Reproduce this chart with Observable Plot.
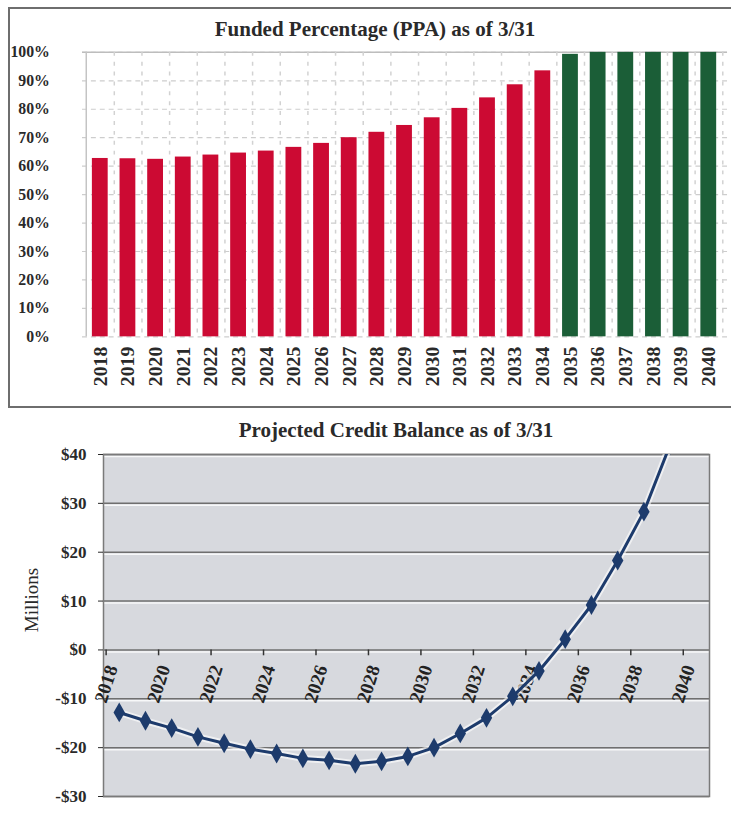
<!DOCTYPE html>
<html><head><meta charset="utf-8">
<script src="https://cdn.jsdelivr.net/npm/d3@7"></script>
<script src="https://cdn.jsdelivr.net/npm/@observablehq/plot@0.6"></script>
<style>
html,body{margin:0;padding:0;background:#fff;overflow:hidden;width:731px;height:821px;}
#box1{position:absolute;left:8px;top:7px;width:760px;height:401px;border:2px solid #6e6e6e;box-sizing:border-box;}
.title{position:absolute;font-family:"Liberation Serif",serif;font-weight:bold;color:#2a2a2a;white-space:nowrap;transform:translateX(-50%);line-height:1;}
#t1{left:375px;top:19px;font-size:21px;}
#t2{left:396px;top:420px;font-size:21px;}
#chart1{position:absolute;left:0;top:40px;}
#chart2{position:absolute;left:0;top:440px;}
#millions{position:absolute;left:31px;top:600px;font-family:"Liberation Serif",serif;font-size:19px;color:#2a2a2a;white-space:nowrap;transform:translate(-50%,-50%) rotate(-90deg);line-height:1;}
</style></head>
<body>
<div id="box1"></div>
<div class="title" id="t1">Funded Percentage (PPA) as of 3/31</div>
<div id="chart1"></div>
<div class="title" id="t2">Projected Credit Balance as of 3/31</div>
<div id="millions">Millions</div>
<div id="chart2"></div>
<script>
// ---- Funded percentage (top) ----
const fundedYears = ["2018","2019","2020","2021","2022","2023","2024","2025","2026","2027","2028","2029","2030","2031","2032","2033","2034","2035","2036","2037","2038","2039","2040"];
const fundedPct = [62.7,62.6,62.4,63.2,63.9,64.6,65.3,66.6,68.0,70.0,71.9,74.3,77.0,80.3,84.0,88.6,93.5,99.3,100,100,100,100,100];
const fundedGroup = ["below","below","below","below","below","below","below","below","below","below","below","below","below","below","below","below","below","full","full","full","full","full","full"];
const pctTicks = [0,10,20,30,40,50,60,70,80,90,100];

// ---- Credit balance (bottom), $ millions ----
const creditYears = [2018,2019,2020,2021,2022,2023,2024,2025,2026,2027,2028,2029,2030,2031,2032,2033,2034,2035,2036,2037,2038,2039];
const creditBalance = [-12.8,-14.5,-16.0,-17.8,-19.1,-20.3,-21.2,-22.2,-22.6,-23.3,-22.8,-21.8,-20.0,-17.1,-13.9,-9.5,-4.3,2.2,9.2,18.3,28.3,42.0];
const creditTickYears = [2018,2020,2022,2024,2026,2028,2030,2032,2034,2036,2038,2040];
const creditYTicks = [-30,-20,-10,0,10,20,30,40];

const serif = "Liberation Serif, Times New Roman, serif";

const fundedData = fundedYears.map((year,i)=>({year, pct: fundedPct[i], group: fundedGroup[i]}));
const W1 = 740, ML1 = 83, MR1 = 4;
const step1 = (W1-ML1-MR1)/fundedYears.length;

const chart1 = Plot.plot({
  width: W1, height: 360, marginTop: 12, marginBottom: 60, marginLeft: ML1, marginRight: MR1,
  x: {domain: fundedYears, paddingInner: 0.42, paddingOuter: 0.21},
  y: {domain: [0,100]},
  color: {domain: ["below","full"], range: ["#cc0a33","#1b5e37"]},
  style: {fontFamily: serif, background: "transparent", color: "#2a2a2a"},
  marks: [
    Plot.ruleY(pctTicks, {stroke: "#cdcdcd", strokeWidth: 1.2, strokeDasharray: "5,4"}),
    Plot.ruleY([100], {stroke: "#bdbdbd", strokeWidth: 1.5}),
    Plot.ruleX(fundedYears, {x: d => d, dx: step1/2, stroke: "#d2d2d2", strokeWidth: 1.5, strokeDasharray: "4,6"}),
    Plot.ruleX([fundedYears[0]], {x: d => d, dx: -step1/2, stroke: "#c4c4c4", strokeWidth: 1.5}),
    Plot.barY(fundedData, {x: "year", y: "pct", fill: "group"}),
    Plot.axisY({ticks: pctTicks, tickFormat: d => d + "%", tickSize: 0, tickPadding: 33, fontSize: 16, fontWeight: "bold", label: null}),
    Plot.axisX({tickSize: 0, tickRotate: -90, tickPadding: 10, fontSize: 20, fontWeight: "bold", label: null})
  ]
});
document.getElementById("chart1").appendChild(chart1);

// bottom
const creditData = creditYears.map((year,i)=>({year, value: creditBalance[i]}));
const navy = "#1d3b6c";
const tickLen = 1.2;
const chart2 = Plot.plot({
  width: 731, height: 368, marginTop: 14, marginBottom: 12, marginLeft: 103, marginRight: 22,
  x: {domain: [2017.4, 2040.5], axis: null},
  y: {domain: [-30, 40]},
  style: {fontFamily: serif, background: "transparent", color: "#2a2a2a"},
  marks: [
    Plot.frame({fill: "#d7d9de"}),
    Plot.ruleY(creditYTicks, {stroke: "#ffffff", strokeWidth: 1.5, dy: 2, strokeOpacity: 0.8}),
    Plot.ruleY(creditYTicks, {stroke: "#6f6f6f", strokeWidth: 1.5}),
    Plot.frame({stroke: "#7a7a7a", strokeWidth: 1.5}),
    Plot.ruleX(creditTickYears, {x: d => d - 0.5, y1: d => 0, y2: d => -tickLen, stroke: "#333", strokeWidth: 1.5}),
    Plot.text(creditTickYears, {x: d => d - 0.5, y: d => 0, text: d => String(d), rotate: -72, textAnchor: "end", dx: 6, dy: 16, fontSize: 19, fontWeight: "bold", fill: "#222"}),
    Plot.line(creditData, {x: "year", y: "value", stroke: "#ffffff", strokeWidth: 7, strokeOpacity: 0.6, clip: true}),
    Plot.line(creditData, {x: "year", y: "value", stroke: navy, strokeWidth: 3, clip: true}),
    Plot.dot(creditData, {x: "year", y: "value", symbol: "diamond", r: 6, fill: navy, clip: true}),
    Plot.axisY({ticks: creditYTicks, tickFormat: d => (d < 0 ? "-" : "") + "$" + Math.abs(d), tickSize: 5, tickPadding: 12, fontSize: 17, fontWeight: "bold", label: null})
  ]
});
document.getElementById("chart2").appendChild(chart2);
</script>
</body></html>
